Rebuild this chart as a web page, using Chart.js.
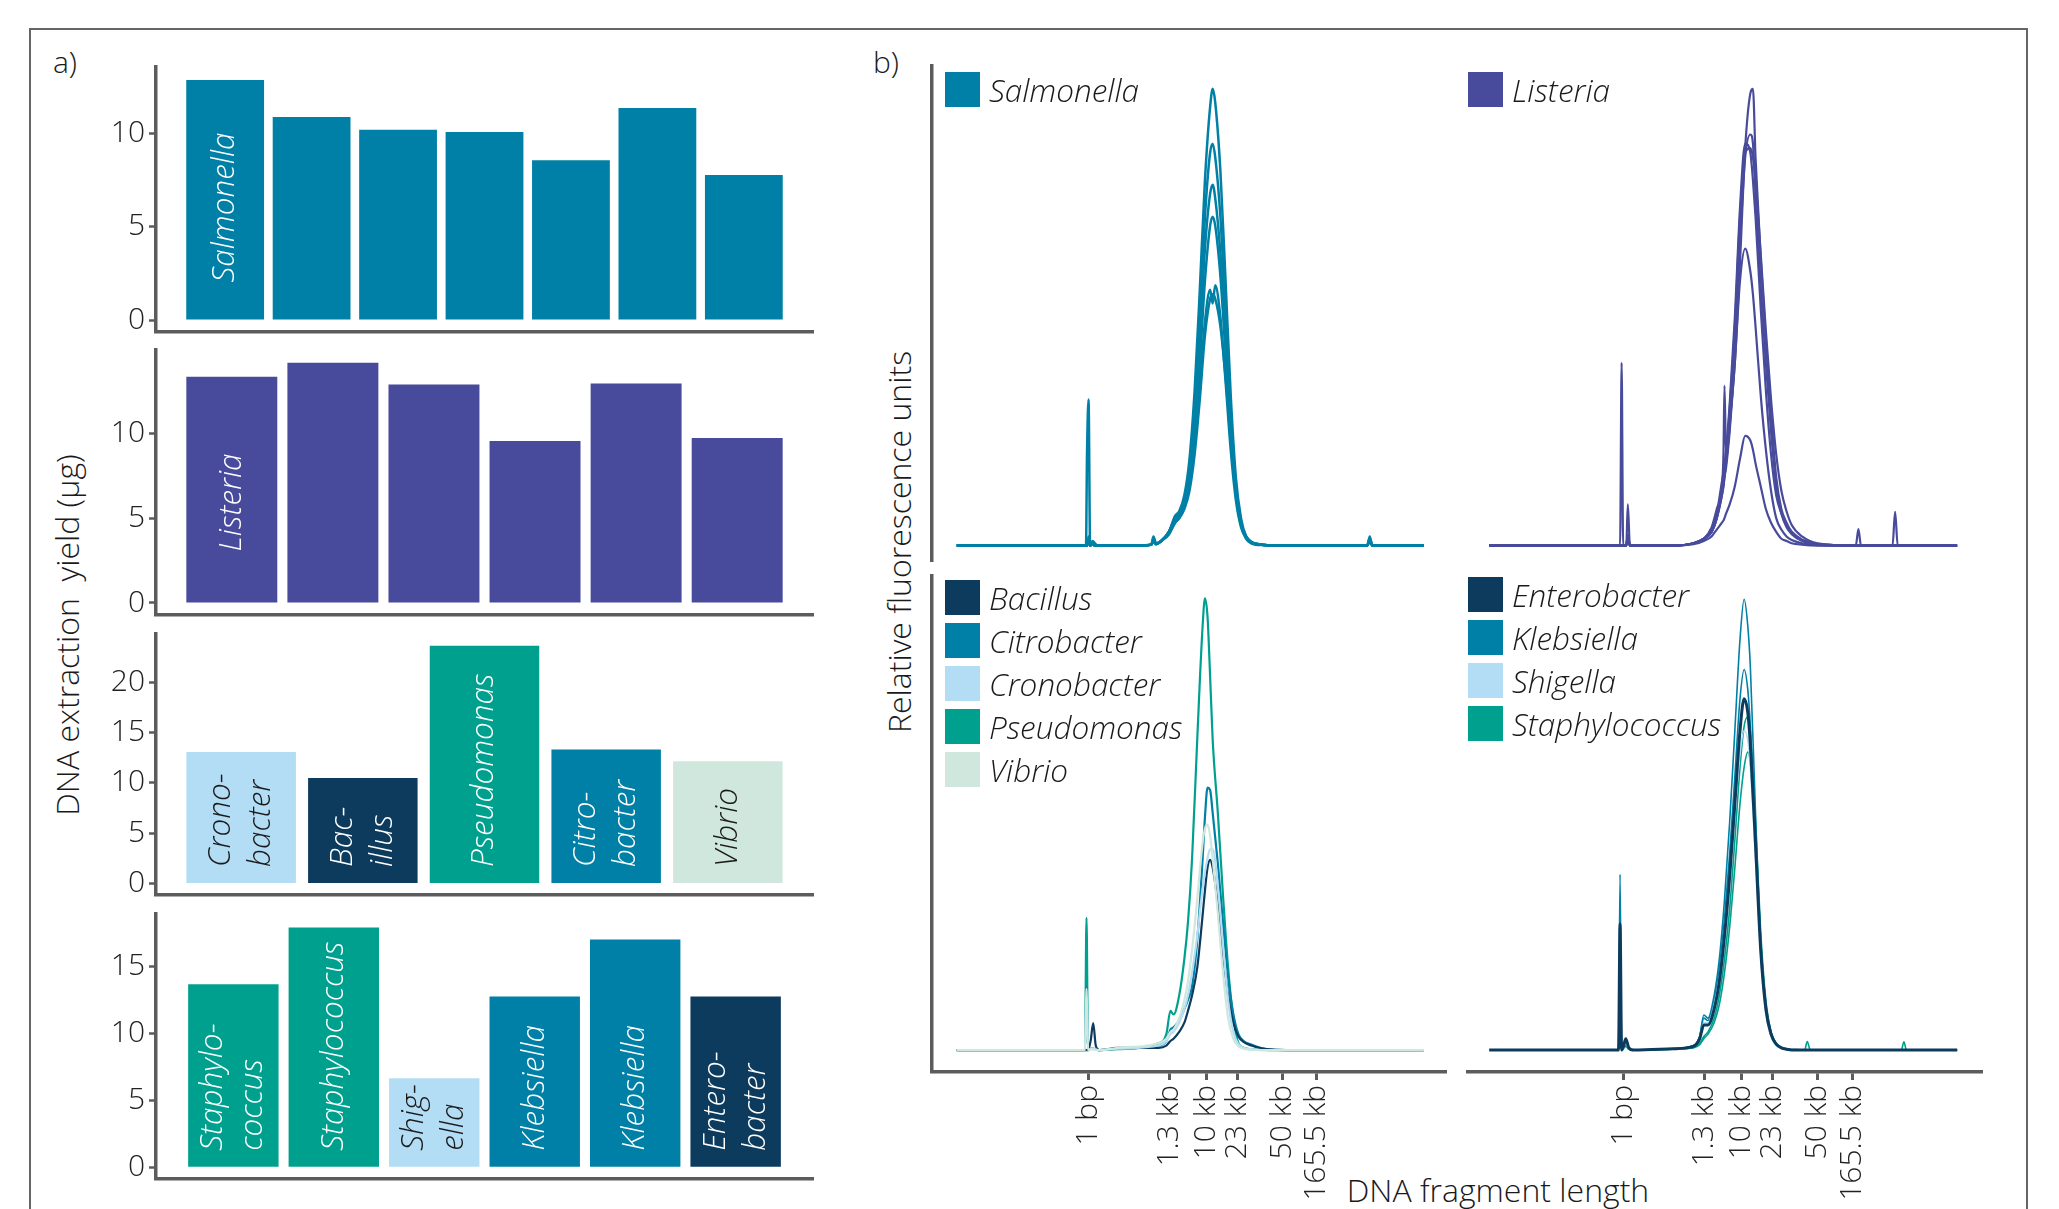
<!DOCTYPE html>
<html>
<head>
<meta charset="utf-8">
<script src="https://cdn.jsdelivr.net/npm/chart.js@4.4.1/dist/chart.umd.min.js"></script>
<style>
html, body { margin: 0; padding: 0; background: #fff; }
body { width: 2059px; height: 1209px; position: relative; overflow: hidden;
  font-family: 'Open Sans', 'Noto Sans', sans-serif; font-weight: 300; color: #1a1a1a; }
canvas { position: absolute; }
.frame { position: absolute; left: 29px; top: 28px; width: 1995px; height: 1300px; border: 2px solid #666; }
.t { position: absolute; white-space: pre; font-size: 30px; line-height: 1; transform: translate(-50%, -50%); }
.big { font-size: 32px; }
.v { transform: translate(-50%, -50%) rotate(-90deg); }
.leg { position: absolute; font-style: italic; font-size: 31.5px; line-height: 1; }
.leg .row { height: 43px; display: flex; align-items: flex-start; }
.leg .sw { width: 35px; height: 35px; margin-right: 9px; flex: none; }
.leg .lab { height: 35px; display: flex; align-items: center; white-space: nowrap; }
</style>
</head>
<body>
<div class="frame"></div>
<div class="t" style="left:65px;top:62px">a)</div>
<div class="t" style="left:886px;top:62px">b)</div>
<div class="t big v" style="left:67px;top:635px">DNA extraction  yield (µg)</div>
<div class="t big v" style="left:899px;top:542px">Relative fluorescence units</div>
<div class="t big" style="left:1498px;top:1190px">DNA fragment length</div>
<script>
// ---- panel a: yields (µg) ----
const salmonellaYield = [12.84, 10.86, 10.18, 10.05, 8.55, 11.34, 7.75];
const listeriaYield = [13.36, 14.18, 12.9, 9.57, 12.96, 9.74];
const mixAYield = [13.08, 10.5, 23.63, 13.32, 12.16];
const mixASpecies = ['Cronobacter', 'Bacillus', 'Pseudomonas', 'Citrobacter', 'Vibrio'];
const mixBYield = [13.65, 17.9, 6.64, 12.75, 17.0, 12.75];
const mixBSpecies = ['Staphylococcus', 'Staphylococcus', 'Shigella', 'Klebsiella', 'Klebsiella', 'Enterobacter'];

const mixALabels = [['Crono-', 'bacter'], ['Bac-', 'illus'], ['Pseudomonas'], ['Citro-', 'bacter'], ['Vibrio']];
const mixBLabels = [['Staphylo-', 'coccus'], ['Staphylococcus'], ['Shig-', 'ella'], ['Klebsiella'], ['Klebsiella'], ['Entero-', 'bacter']];

const ticksA1 = [0, 5, 10];
const ticksA2 = [0, 5, 10];
const ticksA3 = [0, 5, 10, 15, 20];
const ticksA4 = [0, 5, 10, 15];

// ---- panel b: fragment traces (x = migration position, y = relative RFU) ----
const fragTickPos = [30.4, 46.2, 53.3, 59.3, 68.0, 74.7];
const fragTickLabels = ['1 bp', '1.3 kb', '10 kb', '23 kb', '50 kb', '165.5 kb'];

const xsSal = [4.8, 29.9, 30.1, 30.4, 30.7, 31.2, 31.6, 32.2, 40, 42.6, 43.0, 43.5, 44.5, 46, 47.2, 48, 49, 50, 51, 52, 53, 54, 54.5, 55, 56, 57, 58, 59, 60, 61, 62, 64, 70, 84.5, 85, 85.5, 95.5];
const salRun1 = [0,0,20,32,0,1,0.5,0, 0,0.3,2,0.5,1,3,6.5,7.5, 11,19,34,56,80,96,100,97, 82,58,33,15,6,2,0.8,0.2, 0,0,2,0,0];
const salRun2 = [0,0,0,2,0,0.5,0,0, 0,0.2,1.5,0.4,1,3,6,7, 10,17,30,50,72,86,88,85, 72,51,29,13,5,2,0.7,0.2, 0,0,1.5,0,0];
const salRun3 = [0,0,0,1.5,0,0.5,0,0, 0,0.2,1.5,0.4,1,3,6,7, 10,16,27,45,65,77,79,76, 64,46,27,12,5,1.8,0.6,0.2, 0,0,1.5,0,0];
const salRun4 = [0,0,0,1,0,0.4,0,0, 0,0.2,1,0.3,1,3,5.5,6.5, 9,15,25,40,58,70,72,70, 59,42,25,11,4.5,1.6,0.6,0.2, 0,0,1,0,0];
const salRun5 = [0,0,0,1,0,0.4,0,0, 0,0.2,1,0.3,1,2.5,5,6, 8.5,13,22,35,49,56,53,57, 50,36,21,10,4,1.5,0.5,0.1, 0,0,1,0,0];
const salRun6 = [0,0,0,1,0,0.4,0,0, 0,0.2,1,0.3,1,2.5,5,6, 8,12,20,32,46,54,55,54, 48,37,24,12,5,2,0.8,0.2, 0,0,1,0,0];

const xsLis = [4.5, 29.8, 30.1, 30.4, 31.0, 31.3, 31.7, 32.3, 40, 44, 46, 47.5, 48.5, 49.5, 49.8, 50.0, 50.3, 51, 52, 53, 54, 55, 55.5, 56, 57, 58, 59, 60, 61, 62, 63, 65, 68, 75.4, 75.9, 76.4, 82.5, 83, 83.5, 95];
const lisRun1 = [0,0,40,0,0,9,0,0, 0,0.5,1.5,3,6,12,14,16, 19,27,40,62,87,99,100,85, 63,45,29,15,8,5,3,1.2, 0.3,0,0,0,0,0,0,0];
const lisRun2 = [0,0,0,0,0,2,0,0, 0,0.5,1.5,3.5,7,14,16,18, 21,31,50,74,88,86,80,72, 52,34,20,11,7,4.5,3,1.3, 0.3,0,0,0,0,7.4,0,0];
const lisRun3 = [0,0,0,0,0,2,0,0, 0,0.5,1.5,4,8,13,20,35, 20,30,48,72,86,87,85,80, 64,47,32,20,12,7.5,4.5,2, 0.5,0,0,0,0,0,0,0];
const lisRun4 = [0,0,0,0,0,2.5,0,0, 0,0.5,1.5,3,6,11,13,15, 17,25,40,58,65,60,55,48, 33,21,12,6,3.5,2,1.2,0.5, 0.1,0,3.6,0,0,0,0,0];
const lisRun5 = [0,0,0,0,0,1.5,0,0, 0,0.3,1,2,3.5,5,5.5,6, 7,9,13,19,24,23,21,18, 13,8,5,3,1.5,1,0.5,0.2, 0,0,0,0,0,0,0,0];
const lisRun6 = [0,0,0,0,0,2,0,0, 0,0.5,1.5,3,6,11,13,15, 18,26,42,66,85,90,88,77, 57,40,25,13,7,4,2.5,1, 0.2,0,0,0,0,0,0,0];

const xsMixA = [4.8, 29.7, 30.0, 30.3, 30.8, 31.3, 31.8, 32.5, 36, 44, 45.5, 46.3, 46.9, 48, 49, 49.7, 50.5, 51.5, 52.5, 53, 53.5, 54, 54.5, 55.5, 56.5, 57.5, 58.5, 59.5, 60.5, 62, 64, 66, 70, 80, 95.5];
const bacillusRun = [0,0,0,0,2,5.9,1,0, 0.5,0.5,1,2,2.5,4,6,8.6, 12,18,29,35,40,41.7,40,32, 21,12,6,3,1.8,1,0.4,0.1, 0,0,0];
const citrobacterRun = [0,0,14,0,0.3,0.3,0.2,0, 0.3,1,2,4.5,5,6.5,9,11, 14,24,41,51,57.5,57,52,41, 28,16,8,3.5,2,1.2,0.4,0.1, 0,0,0];
const cronobacterRun = [0,0,13,0,0.2,0.2,0.1,0, 0.3,1,2,3.5,4,6,9,12, 17,25,35,39,42,44,44,36, 23,11,4,1.3,0.5,0.2,0,0, 0,0,0];
const pseudomonasRun = [0,0,29,0,0.3,0.3,0.2,0, 0.2,1.5,3.5,8.6,7.8,12,20,28, 42,68,92,99,95,82,68,52, 34,18,7,1.5,0.5,0.2,0.1,0, 0,0,0];
const vibrioRun = [0,0,13.5,0,0.2,0.2,0.1,0, 0.5,1.5,2.5,4,4.5,7,11,15, 22,33,45,48.5,49.4,47,42,30, 17,7,2.5,0.8,0.3,0.1,0,0, 0,0,0];

const xsMixB = [4.5, 29.5, 29.8, 30.1, 30.5, 30.9, 31.5, 32.5, 40, 44, 45.2, 46, 46.8, 48, 49, 50, 51, 52, 53, 53.8, 54.5, 55, 56, 57, 58, 59, 60, 61, 62, 64, 65.5, 66, 66.6, 70, 84.2, 84.7, 85.2, 95];
const enterobacterRun = [0,0,27.7,0,1,2.5,0.5,0, 0.3,0.8,2.5,5.5,5.5,9,15,25, 38,54,70,77,74,67,45,22, 9,3.5,1.3,0.5,0.2,0,0,0, 0,0,0,0,0,0];
const klebsiellaRun1 = [0,0,38.5,0,1,2.2,0.5,0, 0.3,1,3,7.7,7,12,20,33, 50,70,90,98.8,93,84,52,24, 10,4,1.5,0.6,0.2,0.1,0,0, 0,0,0,0,0,0];
const klebsiellaRun2 = [0,0,10,0,0.8,2,0.4,0, 0.3,1,3,7,6.5,11,18,29, 43,60,77,83.4,79,71,46,22, 9,3.5,1.3,0.5,0.2,0,0,0, 0,0,0,0,0,0];
const shigellaRun = [0,0,27,0,0.8,1.5,0.3,0, 0.3,0.8,2.5,6,6,10,16,26, 38,52,65,70,68,62,42,21, 8,3,1,0.4,0.1,0,0,0, 0,0,0,0,0,0];
const staphRun1 = [0,0,5,0,0.5,1,0.2,0, 0.2,0.5,1.5,3,4,7,12,20, 31,46,62,71,73,70,50,26, 11,4,1.5,0.5,0.2,0,0,1.9, 0,0,0,1.8,0,0];
const staphRun2 = [0,0,4,0,0.4,0.8,0.2,0, 0.2,0.5,1.2,2.5,3.5,6,10,17, 27,40,54,62,65.3,63,46,24, 10,3.5,1.2,0.4,0.1,0,0,0, 0,0,0,0,0,0];

const colors = {
  Salmonella: '#0080a6', Citrobacter: '#0080a6', Klebsiella: '#0080a6',
  Listeria: '#484b9b',
  Cronobacter: '#b3ddf4', Shigella: '#b3ddf4',
  Bacillus: '#0c3b5e', Enterobacter: '#0c3b5e',
  Pseudomonas: '#00a08e', Staphylococcus: '#00a08e',
  Vibrio: '#d0e7de'
};
const darkText = ['Cronobacter', 'Shigella', 'Vibrio'];
const AXIS = '#5c5c5c';
const FONT = "'Open Sans', 'Noto Sans', sans-serif";

Chart.defaults.font.family = FONT;
Chart.defaults.font.weight = '300';
Chart.defaults.color = '#1a1a1a';

function fix(kind, size) {
  return (s) => {
    if (!s.options.display) return;
    if (kind === 'h') s.height = size; else s.width = size;
    s.paddingTop = 0; s.paddingBottom = 0; s.paddingLeft = 0; s.paddingRight = 0;
  };
}

function addCanvas(x, y, w, h) {
  const cv = document.createElement('canvas');
  cv.width = w; cv.height = h;
  cv.style.left = x + 'px'; cv.style.top = y + 'px';
  document.body.appendChild(cv);
  return cv;
}

// rotated italic names inside the bars
const barText = {
  id: 'barText',
  afterDatasetsDraw(chart, args, opts) {
    const ctx = chart.ctx;
    const meta = chart.getDatasetMeta(0);
    ctx.save();
    ctx.font = "italic 300 31.5px " + FONT;
    ctx.textAlign = 'left';
    ctx.textBaseline = 'middle';
    opts.lines.forEach((lines, i) => {
      if (!lines) return;
      const bar = meta.data[i];
      ctx.fillStyle = darkText.includes(opts.species[i]) ? '#1a1a1a' : '#fff';
      lines.forEach((t, j) => {
        ctx.save();
        ctx.translate(bar.x + (j - (lines.length - 1) / 2) * 40, bar.base - opts.gap);
        ctx.rotate(-Math.PI / 2);
        ctx.fillText(t, 0, 0);
        ctx.restore();
      });
    });
    ctx.restore();
  }
};

function makeBar(top, bottom, values, species, lines, gap, yMin, yMax, yTicks, xMin, xMax) {
  const cv = addCanvas(80, top - 4, 740, bottom - top + 8);
  new Chart(cv, {
    type: 'bar',
    data: {
      datasets: [{
        data: values.map((v, i) => ({ x: i, y: v })),
        backgroundColor: species.map(s => colors[s]),
        categoryPercentage: 1,
        barPercentage: 0.9
      }]
    },
    options: {
      responsive: false, animation: false, devicePixelRatio: 1,
      layout: { padding: { top: 4, right: 7, left: 0, bottom: 0 } },
      plugins: { legend: { display: false }, tooltip: { enabled: false },
        barText: { lines, species, gap } },
      scales: {
        x: { type: 'linear', min: xMin, max: xMax, offset: false,
          afterBuildTicks: s => { s.ticks = values.map((v, i) => ({ value: i })); },
          ticks: { display: false }, grid: { display: false, offset: false },
          border: { color: AXIS, width: 3.5 }, afterFit: fix('h', 4) },
        y: { min: yMin, max: yMax,
          afterBuildTicks: s => { s.ticks = yTicks.map(v => ({ value: v })); },
          ticks: { font: { size: 30 }, padding: 4, color: '#222' },
          grid: { drawOnChartArea: false, tickLength: 7, tickWidth: 2.5, tickColor: AXIS },
          border: { color: AXIS, width: 3.5 }, afterFit: fix('w', 76) }
      }
    },
    plugins: [barText]
  });
}

makeBar(67, 332, salmonellaYield, salmonellaYield.map(() => 'Salmonella'),
  [['Salmonella']], 37, -0.64, 13.53, ticksA1, -0.8, 6.8);
makeBar(350, 615, listeriaYield, listeriaYield.map(() => 'Listeria'),
  [['Listeria']], 51, -0.71, 14.94, ticksA2, -0.75, 5.75);
makeBar(634, 895, mixAYield, mixASpecies, mixALabels, 16, -1.14, 24.8, ticksA3, -0.7, 4.7);
makeBar(914, 1179, mixBYield, mixBSpecies, mixBLabels, 16, -0.87, 18.9, ticksA4, -0.77, 5.77);

function makeLine(x, y, w, h, xs, runs, runColors, widths, yMin, yMax, showY, showX) {
  const cv = addCanvas(x, y, w, h);
  new Chart(cv, {
    type: 'line',
    data: {
      datasets: runs.map((ys, k) => ({
        data: xs.map((xv, i) => ({ x: xv, y: ys[i] })),
        borderColor: runColors[k], borderWidth: widths[k],
        pointRadius: 0, cubicInterpolationMode: 'monotone', fill: false
      }))
    },
    options: {
      responsive: false, animation: false, devicePixelRatio: 1,
      layout: { padding: { top: 6, right: 0, left: 0, bottom: 0 } },
      plugins: { legend: { display: false }, tooltip: { enabled: false } },
      scales: {
        x: { type: 'linear', min: 0, max: 100, display: showX,
          afterBuildTicks: s => { s.ticks = fragTickPos.map(v => ({ value: v })); },
          ticks: { autoSkip: false, minRotation: 90, maxRotation: 90, padding: 5,
            font: { size: 30 }, color: '#222', callback: (v, i) => fragTickLabels[i] },
          grid: { drawOnChartArea: false, tickLength: 8, tickWidth: 3, tickColor: AXIS },
          border: { color: AXIS, width: 3.5 }, afterFit: fix('h', 130) },
        y: { min: yMin, max: yMax, display: showY,
          ticks: { display: false }, grid: { display: false },
          border: { color: AXIS, width: 3.5 }, afterFit: fix('w', 6) }
      }
    }
  });
}

makeLine(926, 60, 521, 502, xsSal,
  [salRun1, salRun2, salRun3, salRun4, salRun5, salRun6],
  Array(6).fill(colors.Salmonella), Array(6).fill(2.5), -3.6, 105, true, false);
makeLine(1466, 60, 517, 502, xsLis,
  [lisRun1, lisRun2, lisRun3, lisRun4, lisRun5, lisRun6],
  Array(6).fill(colors.Listeria), Array(6).fill(2.2), -3.6, 105, false, false);
makeLine(926, 570, 521, 632, xsMixA,
  [vibrioRun, cronobacterRun, bacillusRun, citrobacterRun, pseudomonasRun],
  [colors.Vibrio, colors.Cronobacter, colors.Bacillus, colors.Citrobacter, colors.Pseudomonas],
  [2.2, 2.2, 2.2, 2.2, 2.2], -4.8, 103.9, true, true);
makeLine(1466, 570, 517, 632, xsMixB,
  [enterobacterRun, shigellaRun, klebsiellaRun1, klebsiellaRun2, staphRun1, staphRun2],
  [colors.Enterobacter, colors.Shigella, colors.Klebsiella, colors.Klebsiella, colors.Staphylococcus, colors.Staphylococcus],
  [3, 1.6, 1.6, 1.6, 1.6, 1.6], -4.8, 103.9, false, true);

function legend(x, y, names) {
  const box = document.createElement('div');
  box.className = 'leg';
  box.style.left = x + 'px'; box.style.top = y + 'px';
  names.forEach(n => {
    const row = document.createElement('div');
    row.className = 'row';
    row.innerHTML = '<div class="sw" style="background:' + colors[n] + '"></div><div class="lab">' + n + '</div>';
    box.appendChild(row);
  });
  document.body.appendChild(box);
}
legend(945, 72, ['Salmonella']);
legend(1468, 72, ['Listeria']);
legend(945, 580, ['Bacillus', 'Citrobacter', 'Cronobacter', 'Pseudomonas', 'Vibrio']);
legend(1468, 577, ['Enterobacter', 'Klebsiella', 'Shigella', 'Staphylococcus']);
</script>
</body>
</html>
